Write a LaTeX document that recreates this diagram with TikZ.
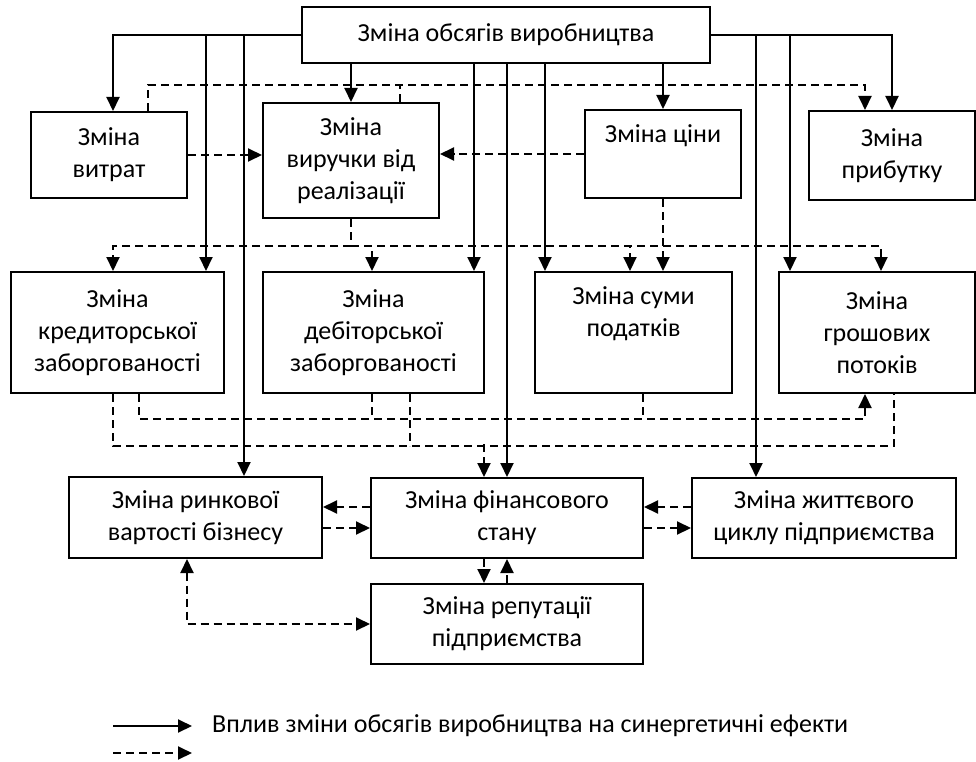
\documentclass[tikz,border=0pt]{standalone}
\usepackage{fontspec}
\setmainfont{Carlito}
\usetikzlibrary{arrows.meta}

\begin{document}
\begin{tikzpicture}[
  x=1pt,y=-1pt,
  >={Triangle[length=14pt,width=13pt]},
  box/.style={draw=black, line width=2pt, align=center, inner sep=0pt,
              font=\fontsize{26}{32}\selectfont},
  flow/.style={->, line width=2pt},
  dflow/.style={flow, dash pattern=on 8pt off 5pt},
  dwire/.style={line width=2pt, dash pattern=on 8pt off 5pt},
  dboth/.style={dflow, <->},
  legend/.style={font=\fontsize{26}{32}\selectfont, anchor=west, inner sep=0pt}
]
  \useasboundingbox (0,0) rectangle (976,762);

  \node[box,minimum width=408pt,minimum height=56pt] (obs) at (506,35)
    {Зміна обсягів виробництва};

  \node[box,minimum width=156pt,minimum height=86pt] (vytr) at (109,155)
    {Зміна\\витрат};
  \node[box,minimum width=176pt,minimum height=115pt] (vyr) at (351,160.5)
    {Зміна\\виручки від\\реалізації};
  \node[box,minimum width=156pt,minimum height=88pt] (cin) at (663,154)
    {Зміна ціни\\\strut};
  \node[box,minimum width=166pt,minimum height=89pt] (prib) at (892,155.5)
    {Зміна\\прибутку};

  \node[box,minimum width=213pt,minimum height=121pt] (kred) at (117.5,332.5)
    {Зміна\\кредиторської\\заборгованості};
  \node[box,minimum width=221pt,minimum height=121pt] (deb) at (373.5,332.5)
    {Зміна\\дебіторської\\заборгованості};
  \node[box,minimum width=197pt,minimum height=121pt] (pod) at (633.5,332.5)
    {Зміна суми\\податків\\\strut};
  \node[box,minimum width=196pt,minimum height=121pt] (grosh) at (877,332.5)
    {Зміна\\грошових\\потоків};

  \node[box,minimum width=253pt,minimum height=81pt] (rynk) at (195.5,517.5)
    {Зміна ринкової\\вартості бізнесу};
  \node[box,minimum width=272pt,minimum height=80pt] (fin) at (507,518)
    {Зміна фінансового\\стану};
  \node[box,minimum width=264pt,minimum height=80pt] (zhytt) at (824,518)
    {Зміна життєвого\\циклу підприємства};
  \node[box,minimum width=272pt,minimum height=80pt] (rep) at (507,624)
    {Зміна репутації\\підприємства};

  % solid: from obs
  \coordinate (t1) at ([xshift=-11pt]deb.north east);
  \coordinate (t2) at ([xshift=11pt]pod.north west);
  \draw[flow] (obs.west) -| ([xshift=4pt]vytr.north);
  \draw[flow] (obs.west) -| ([xshift=-19pt]kred.north east);
  \draw[flow] (obs.west) -| ([xshift=48.5pt]rynk.north);
  \draw[flow] (obs.east) -| (prib.north);
  \draw[flow] (obs.east) -| ([xshift=-68pt]zhytt.north);
  \draw[flow] (obs.east) -| ([xshift=12pt]grosh.north west);
  \draw[flow] (obs.south -| vyr.north) -- (vyr.north);
  \draw[flow] (obs.south -| t1) -- (t1);
  \draw[flow] (obs.south -| fin.north) -- (fin.north);
  \draw[flow] (obs.south -| t2) -- (t2);
  \draw[flow] (obs.south -| cin.north) -- (cin.north);

  % dashed: second row
  \draw[dflow] (vytr.east) -- (vytr.east -| vyr.west);
  \draw[dflow] (cin.west) -- (cin.west -| vyr.east);
  \draw[dflow] ([xshift=39pt]vytr.north) -- ++(0,-26) -| ([xshift=-27pt]prib.north);
  \draw[dwire] ([xshift=49pt]vyr.north) -- ++(0,-17);

  % dashed: to third row
  \coordinate (vb) at ([yshift=-27pt]vyr.south);
  \draw[dwire] (vyr.south) -- (vb);
  \draw[dflow] (vb) -| ([xshift=-4.5pt]kred.north);
  \draw[dflow] (vb) -| ([xshift=-1.5pt]deb.north);
  \draw[dflow] (vb) -| ([xshift=-3.5pt]pod.north);
  \draw[dflow] (vb) -| ([xshift=4pt]grosh.north);
  \draw[dflow] (cin.south) -- (cin.south |- pod.north);

  % dashed: below third row
  \draw[dflow] ([xshift=21.5pt]kred.south) -- ++(0,25) -| ([xshift=-12pt]grosh.south);
  \draw[dwire] ([xshift=-1.5pt]deb.south) -- ++(0,25);
  \draw[dwire] ([xshift=9.5pt]pod.south) -- ++(0,25);
  \draw[dwire] ([xshift=-4.5pt]kred.south) -- ++(0,52) -| ([xshift=17pt]grosh.south);
  \draw[dwire] ([xshift=36.5pt]deb.south) -- ++(0,52);
  \coordinate (fa) at ([xshift=-23pt]fin.north);
  \draw[dflow] ([yshift=33pt]fa) -- (fa);

  % dashed: fourth row
  \coordinate (fw1) at ([yshift=11pt]fin.west);
  \coordinate (fw2) at ([yshift=-10pt]fin.west);
  \coordinate (fe1) at ([yshift=11pt]fin.east);
  \coordinate (fe2) at ([yshift=-10pt]fin.east);
  \draw[dflow] (fw1) -- (fw1 -| rynk.east);
  \draw[dflow] (fw2 -| rynk.east) -- (fw2);
  \draw[dflow] (fe1 -| zhytt.west) -- (fe1);
  \draw[dflow] (fe2) -- (fe2 -| zhytt.west);
  \draw[dflow] (fa |- fin.south) -- (fa |- rep.north);
  \draw[dflow] (rep.north) -- (fin.south);
  \draw[dboth] ([xshift=-8.5pt]rynk.south) |- (rep.west);

  % legend
  \coordinate (ls0) at (113,726);
  \coordinate (ls1) at (192,726);
  \coordinate (ld0) at (113,753);
  \coordinate (ld1) at (192,753);
  \draw[flow] (ls0) -- (ls1);
  \draw[dflow] (ld0) -- (ld1);
  \node[legend] (ltxt) at (212,726)
    {Вплив зміни обсягів виробництва на синергетичні ефекти};
\end{tikzpicture}
\end{document}
